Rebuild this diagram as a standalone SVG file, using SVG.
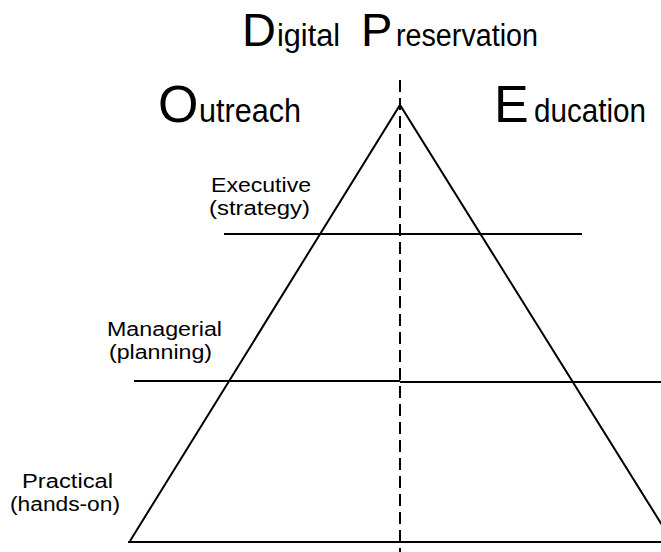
<svg xmlns="http://www.w3.org/2000/svg" width="661" height="552" viewBox="0 0 661 552">
<style>
text{font-family:"Liberation Sans",Arial,sans-serif;fill:#000}
.ln{stroke:#000;stroke-width:2;fill:none}
.dash{stroke:#000;stroke-width:2;stroke-dasharray:12,6;fill:none}
.lbl{font-size:20px}
</style>
<rect width="661" height="552" fill="#fff"/>
<g id="title">
<text x="242" y="46" font-size="47">D<tspan x="277" font-size="31" textLength="63" lengthAdjust="spacingAndGlyphs">igital</tspan><tspan x="361">P</tspan><tspan x="396" font-size="31" textLength="142" lengthAdjust="spacingAndGlyphs">reservation</tspan></text>
</g>
<g id="outreach"><text x="158" y="122" font-size="52">O<tspan x="199" font-size="34" textLength="102" lengthAdjust="spacingAndGlyphs">utreach</tspan></text></g>
<g id="education"><text x="494" y="122" font-size="52">E<tspan x="534" font-size="34" textLength="112" lengthAdjust="spacingAndGlyphs">ducation</tspan></text></g>
<g id="connectors">
<polyline class="ln" points="130,541 400,105 672,541"/>
<line class="ln" x1="128" y1="542" x2="661" y2="542"/>
<line class="ln" x1="224" y1="234" x2="582" y2="234"/>
<line class="ln" x1="134" y1="381" x2="400" y2="381"/>
<line class="ln" x1="400" y1="382" x2="661" y2="382"/>
<line class="dash" x1="400" y1="80" x2="400" y2="552"/>
</g>
<g id="executive"><text class="lbl" x="211" y="192" textLength="100" lengthAdjust="spacingAndGlyphs">Executive</text><text class="lbl" x="209" y="215" textLength="101" lengthAdjust="spacingAndGlyphs">(strategy)</text></g>
<g id="managerial"><text class="lbl" x="107" y="336" textLength="115" lengthAdjust="spacingAndGlyphs">Managerial</text><text class="lbl" x="109" y="359" textLength="103" lengthAdjust="spacingAndGlyphs">(planning)</text></g>
<g id="practical"><text class="lbl" x="22" y="488" textLength="91" lengthAdjust="spacingAndGlyphs">Practical</text><text class="lbl" x="10" y="511" textLength="110" lengthAdjust="spacingAndGlyphs">(hands-on)</text></g>
</svg>
